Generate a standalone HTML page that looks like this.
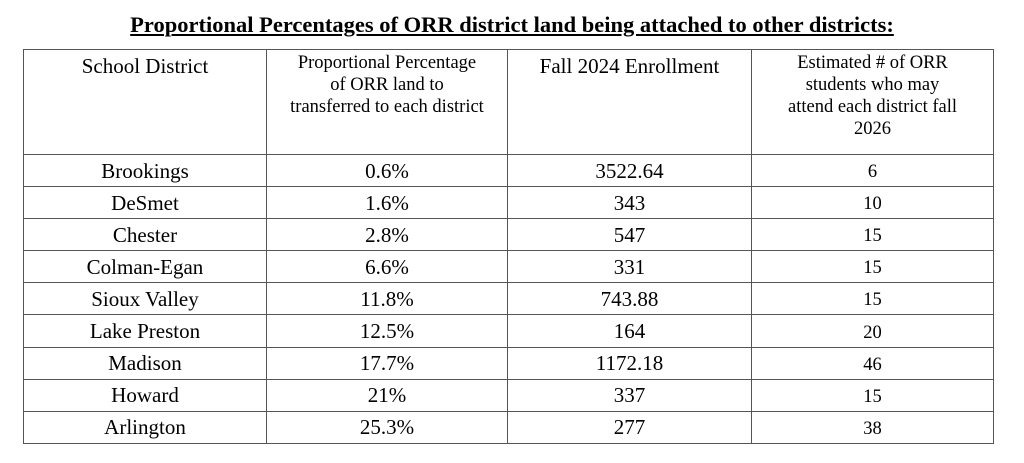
<!DOCTYPE html>
<html><head><meta charset="utf-8"><style>
body{margin:0;width:1024px;height:463px;background:#fff;font-family:"Liberation Serif",serif;color:#000;position:relative;overflow:hidden}
.t{position:absolute;left:0;width:1024px;top:12px;text-align:center;font-weight:bold;font-size:22.5px;text-decoration:underline;text-underline-offset:2px;font-family:"Liberation Serif",serif}
table{position:absolute;left:23px;top:49px;border-collapse:collapse;table-layout:fixed}
td{border:1.5px solid #555;text-align:center;padding:0;font-size:21px;height:32.1px;line-height:22px;box-sizing:border-box}
tr.h td{vertical-align:top;height:105px}
.s{font-size:18.5px;line-height:22px;padding-top:2px}
.n{font-size:18.5px;padding-top:3px}
</style></head><body>
<div class="t">Proportional Percentages of ORR district land being attached to other districts:</div>
<table>
<colgroup><col style="width:243px"><col style="width:241px"><col style="width:244px"><col style="width:242px"></colgroup>
<tr class="h"><td style="padding-top:5px">School District</td><td class="s">Proportional Percentage<br>of ORR land to<br>transferred to each district</td><td style="padding-top:5px">Fall 2024 Enrollment</td><td class="s">Estimated # of ORR<br>students who may<br>attend each district fall<br>2026</td></tr>
<tr><td>Brookings</td><td>0.6%</td><td>3522.64</td><td class="n">6</td></tr>
<tr><td>DeSmet</td><td>1.6%</td><td>343</td><td class="n">10</td></tr>
<tr><td>Chester</td><td>2.8%</td><td>547</td><td class="n">15</td></tr>
<tr><td>Colman-Egan</td><td>6.6%</td><td>331</td><td class="n">15</td></tr>
<tr><td>Sioux Valley</td><td>11.8%</td><td>743.88</td><td class="n">15</td></tr>
<tr><td>Lake Preston</td><td>12.5%</td><td>164</td><td class="n">20</td></tr>
<tr><td>Madison</td><td>17.7%</td><td>1172.18</td><td class="n">46</td></tr>
<tr><td>Howard</td><td>21%</td><td>337</td><td class="n">15</td></tr>
<tr><td>Arlington</td><td>25.3%</td><td>277</td><td class="n">38</td></tr>
</table>
</body></html>
